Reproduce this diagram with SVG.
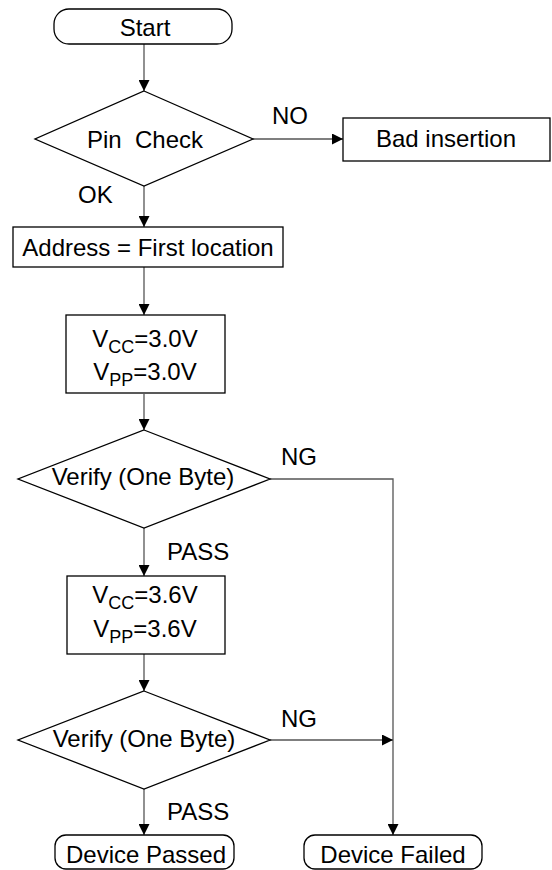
<svg xmlns="http://www.w3.org/2000/svg" width="552" height="870" viewBox="0 0 552 870">
<defs>
<marker id="arr" viewBox="0 0 11 11" refX="11" refY="5.5" markerWidth="11" markerHeight="11" markerUnits="userSpaceOnUse" orient="auto">
<path d="M0,0 L11,5.5 L0,11 Z" fill="#000"/>
</marker>
<style>
.shape{fill:#fff;stroke:#000;stroke-width:1.3}
.conn{fill:none;stroke:#555;stroke-width:1.3}
.t{font-family:"Liberation Sans",Arial,sans-serif;font-size:24px;fill:#000;text-anchor:middle}
.l{font-family:"Liberation Sans",Arial,sans-serif;font-size:24px;fill:#000}
.sub{font-size:18px}
</style>
</defs>
<rect width="552" height="870" fill="#fff"/>
<g id="connectors">
<path class="conn" d="M144,44 V91" marker-end="url(#arr)"/>
<path class="conn" d="M253,139 H343" marker-end="url(#arr)"/>
<path class="conn" d="M144,186 V227" marker-end="url(#arr)"/>
<path class="conn" d="M144,267 V315" marker-end="url(#arr)"/>
<path class="conn" d="M144,394 V430" marker-end="url(#arr)"/>
<path class="conn" d="M144,528 V576" marker-end="url(#arr)"/>
<path class="conn" d="M144,654 V691" marker-end="url(#arr)"/>
<path class="conn" d="M144,789 V835" marker-end="url(#arr)"/>
<path class="conn" d="M270,479 H393 V835" marker-end="url(#arr)"/>
<path class="conn" d="M270,740 H393" marker-end="url(#arr)"/>
<text class="l" x="272" y="124">NO</text>
<text class="l" x="78" y="203">OK</text>
<text class="l" x="281" y="465">NG</text>
<text class="l" x="167" y="560">PASS</text>
<text class="l" x="281" y="727">NG</text>
<text class="l" x="167" y="820">PASS</text>
</g>
<g id="start">
<rect class="shape" x="54" y="9" width="178" height="35" rx="15" ry="15"/>
<text class="t" x="145" y="36">Start</text>
</g>
<g id="pin-check">
<polygon class="shape" points="144,91 253,139 144,186 35,139"/>
<text class="t" x="145" y="148" xml:space="preserve">Pin  Check</text>
</g>
<g id="bad-insertion">
<rect class="shape" x="343" y="118" width="207" height="43"/>
<text class="t" x="446" y="147">Bad insertion</text>
</g>
<g id="address">
<rect class="shape" x="13" y="227" width="270" height="40"/>
<text class="t" x="148" y="256">Address = First location</text>
</g>
<g id="voltage-30">
<rect class="shape" x="66" y="315" width="159" height="78"/>
<text class="t" x="145" y="347">V<tspan class="sub" dy="6">CC</tspan><tspan dy="-6">=3.0V</tspan></text>
<text class="t" x="145" y="380">V<tspan class="sub" dy="6">PP</tspan><tspan dy="-6">=3.0V</tspan></text>
</g>
<g id="verify-1">
<polygon class="shape" points="144,430 270,479 144,528 18,479"/>
<text class="t" x="143" y="485">Verify (One Byte)</text>
</g>
<g id="voltage-36">
<rect class="shape" x="67" y="576" width="158" height="78"/>
<text class="t" x="145" y="603">V<tspan class="sub" dy="6">CC</tspan><tspan dy="-6">=3.6V</tspan></text>
<text class="t" x="145" y="637">V<tspan class="sub" dy="6">PP</tspan><tspan dy="-6">=3.6V</tspan></text>
</g>
<g id="verify-2">
<polygon class="shape" points="144,691 270,740 144,789 18,740"/>
<text class="t" x="144" y="747">Verify (One Byte)</text>
</g>
<g id="device-passed">
<rect class="shape" x="55" y="835" width="179" height="34" rx="11" ry="11"/>
<text class="t" x="146" y="863">Device Passed</text>
</g>
<g id="device-failed">
<rect class="shape" x="304" y="835" width="178" height="34" rx="11" ry="11"/>
<text class="t" x="393" y="863">Device Failed</text>
</g>
</svg>
